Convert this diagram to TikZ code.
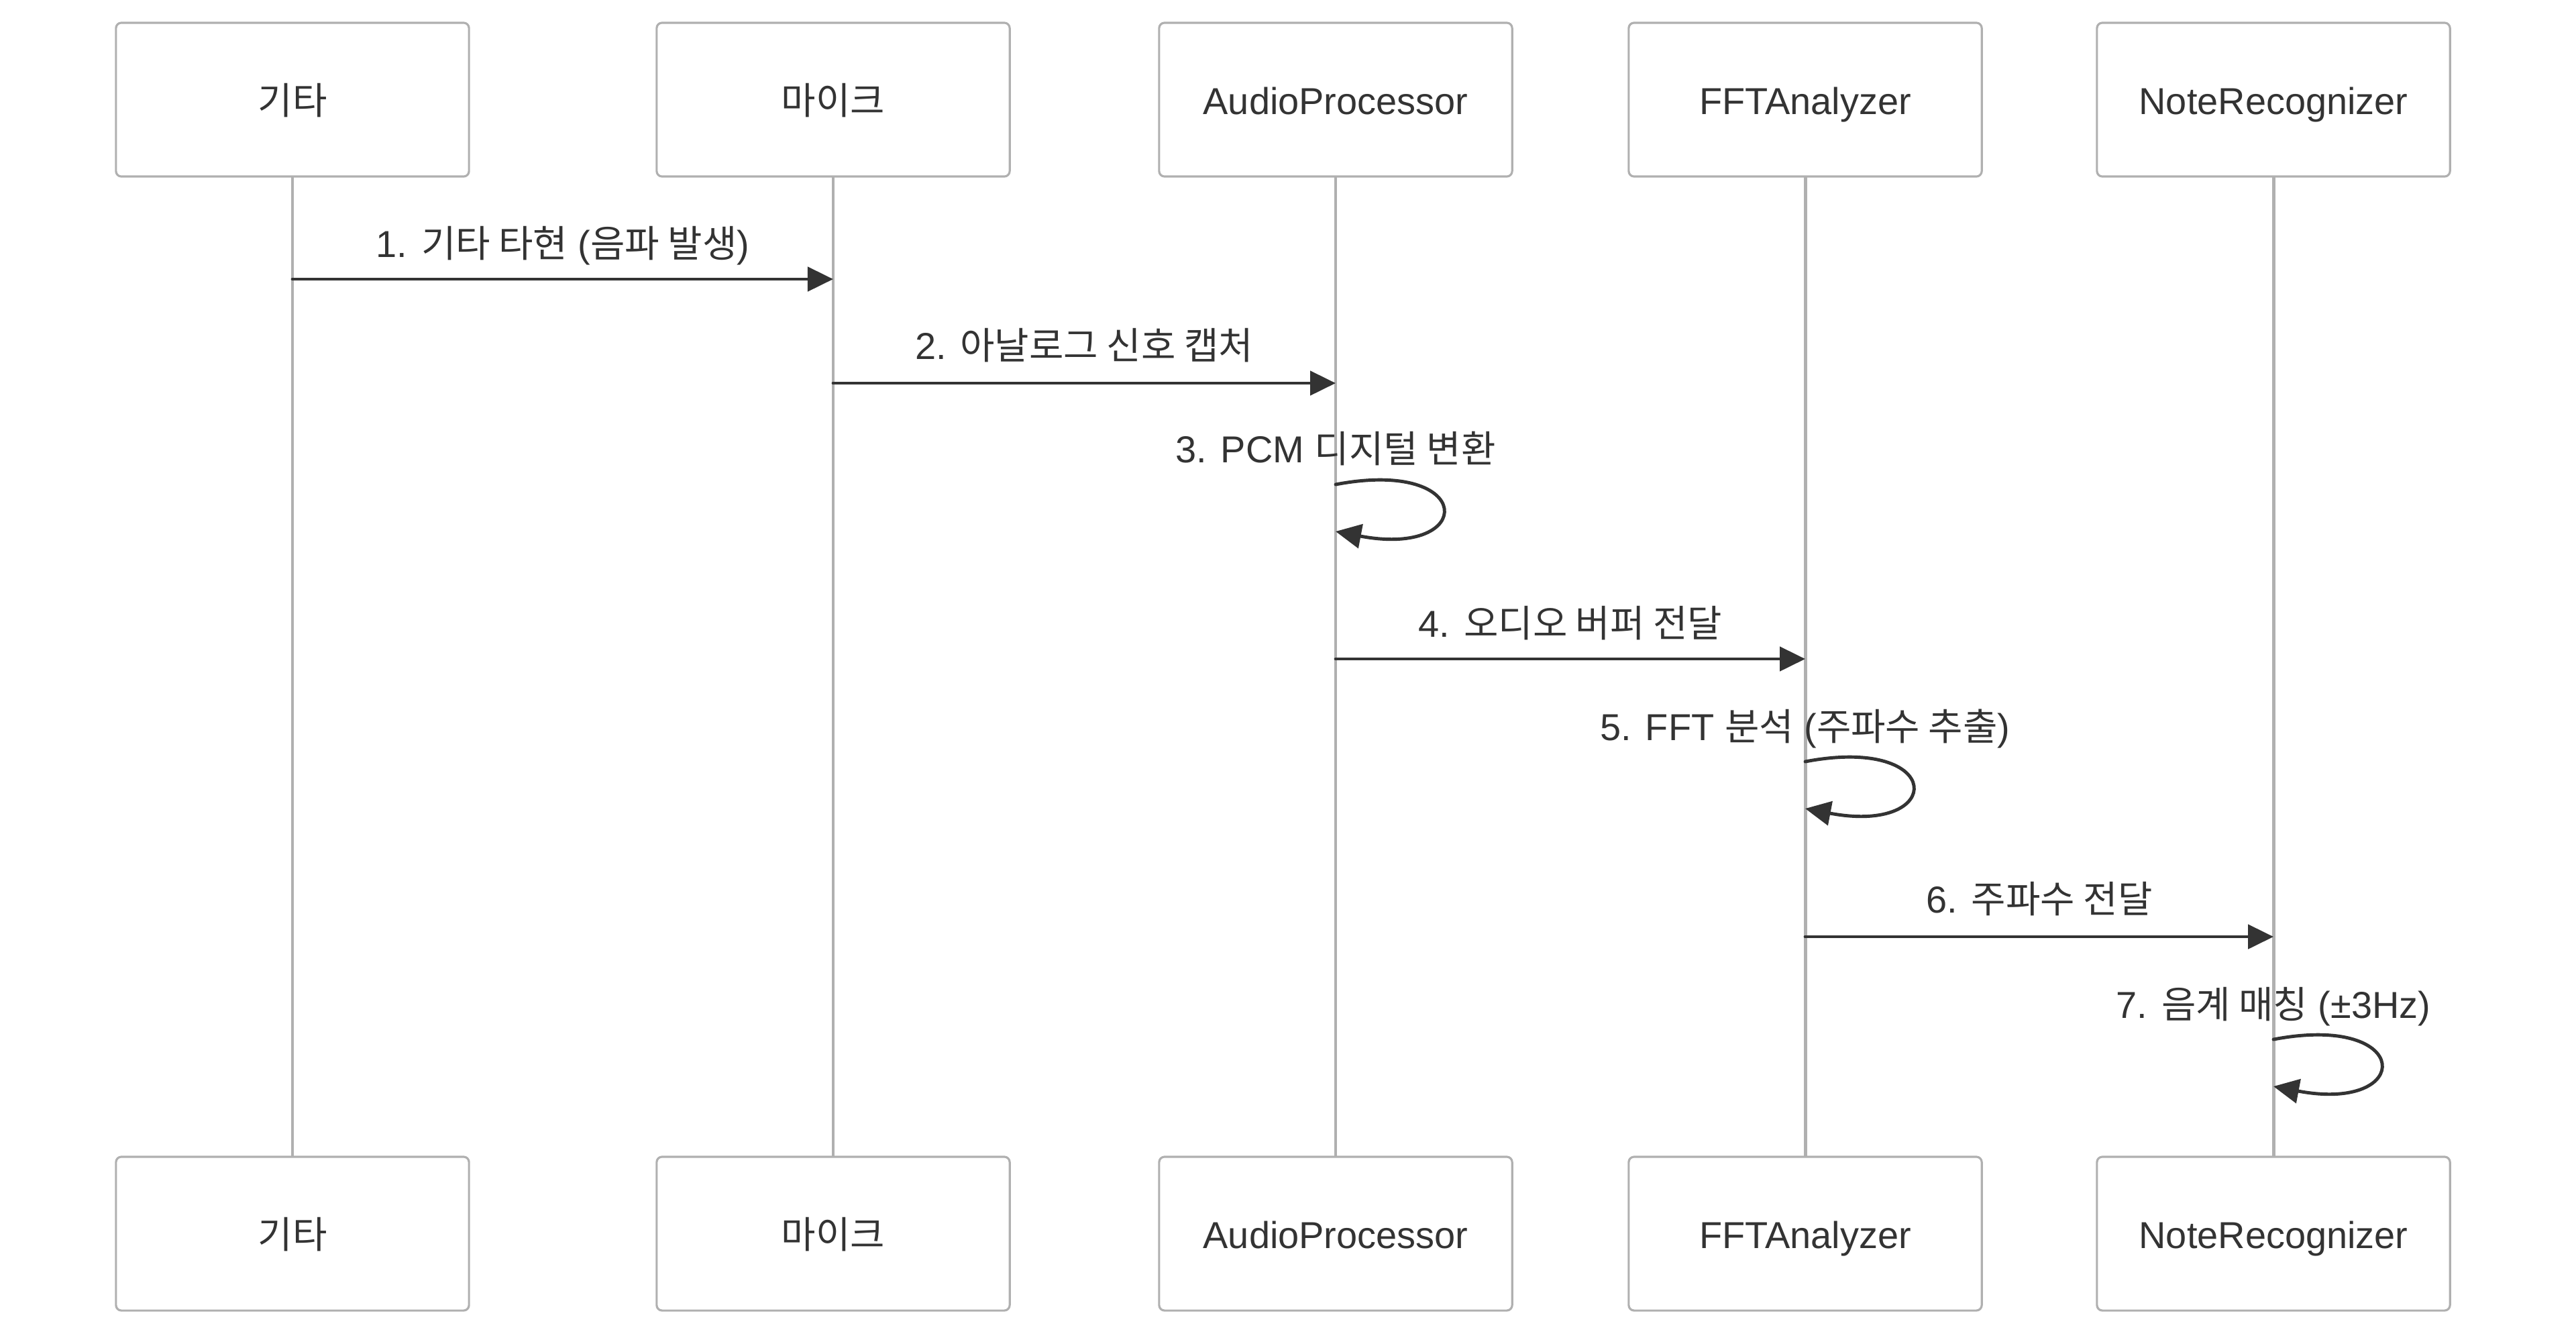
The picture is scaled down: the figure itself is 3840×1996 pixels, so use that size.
\documentclass[tikz,border=0pt]{standalone}
\usepackage{fontspec}
\setmainfont{Liberation Sans}
\newfontfamily\krfont{Noto Sans CJK KR}
\newcommand\ko[1]{{\krfont #1}}
\usetikzlibrary{arrows.meta}
\definecolor{ink}{HTML}{333333}
\definecolor{lifegray}{HTML}{B0B0B0}
\begin{document}
\begin{tikzpicture}[x=0.01cm,y=-0.01cm,line cap=round,line join=round,
  actor/.style={draw=lifegray,line width=0.9pt,rounded corners=2.3pt,fill=white,
    minimum width=5.26cm,minimum height=2.29cm,text=ink,text height=0.5cm,text depth=0.06cm,
    font=\fontsize{15.9}{19}\selectfont},
  life/.style={draw=lifegray,line width=1.4pt},
  msg/.style={draw=ink,line width=1.4pt,-{Triangle[length=0.38cm,width=0.36cm]}},
  lbl/.style={text=ink,anchor=base,inner sep=0pt,font=\fontsize{15.9}{19}\selectfont}]
\useasboundingbox (0,0) rectangle (3840,1996);
\node[actor] (gtop) at (436,148.5) {\ko{기타}};
\node[actor] (mtop) at (1242,148.5) {\ko{마이크}};
\node[actor] (atop) at (1991,148.5) {AudioProcessor};
\node[actor] (ftop) at (2691,148.5) {FFTAnalyzer};
\node[actor] (ntop) at (3389,148.5) {NoteRecognizer};
\node[actor] (gbot) at (436,1838.5) {\ko{기타}};
\node[actor] (mbot) at (1242,1838.5) {\ko{마이크}};
\node[actor] (abot) at (1991,1838.5) {AudioProcessor};
\node[actor] (fbot) at (2691,1838.5) {FFTAnalyzer};
\node[actor] (nbot) at (3389,1838.5) {NoteRecognizer};
\foreach \t/\b in {gtop/gbot,mtop/mbot,atop/abot,ftop/fbot,ntop/nbot}
  \draw[life] (\t.south) -- (\b.north);
\draw[msg] (gtop |- 0,416) -- (mtop |- 0,416);
\node[lbl] (l1) at (839,383) {1. \ko{기타 타현} (\ko{음파 발생})};
\draw[msg] (mtop |- 0,571) -- (atop |- 0,571);
\node[lbl] (l2) at (1616,535) {2. \ko{아날로그 신호 캡처}};
\draw[msg] (atop |- 0,722) .. controls +(210,-40) and +(210,40) .. (atop |- 0,792);
\node[lbl] (l3) at (1991,689) {3. PCM \ko{디지털 변환}};
\draw[msg] (atop |- 0,982) -- (ftop |- 0,982);
\node[lbl] (l4) at (2341,949) {4. \ko{오디오 버퍼 전달}};
\draw[msg] (ftop |- 0,1135) .. controls +(210,-40) and +(210,40) .. (ftop |- 0,1205);
\node[lbl] (l5) at (2691,1103) {5. FFT \ko{분석} (\ko{주파수 추출})};
\draw[msg] (ftop |- 0,1396) -- (ntop |- 0,1396);
\node[lbl] (l6) at (3040,1360) {6. \ko{주파수 전달}};
\draw[msg] (ntop |- 0,1549) .. controls +(210,-40) and +(210,40) .. (ntop |- 0,1619);
\node[lbl] (l7) at (3389,1517) {7. \ko{음계 매칭} (±3Hz)};
\end{tikzpicture}
\end{document}
